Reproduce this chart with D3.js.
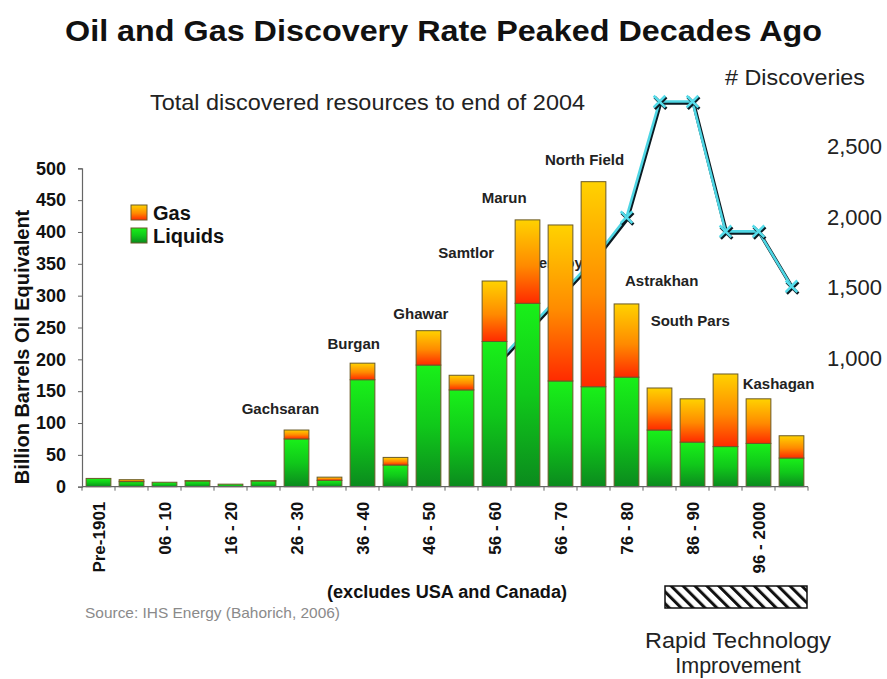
<!DOCTYPE html>
<html>
<head>
<meta charset="utf-8">
<script src="https://cdn.jsdelivr.net/npm/d3@7"></script>
<style>
  body { margin: 0; background: #ffffff; }
  svg { display: block; font-family: "Liberation Sans", Arial, Helvetica, sans-serif; }
</style>
</head>
<body>
<svg id="chart" width="887" height="679"></svg>
<script>
// Discovered resources by discovery period (billion barrels oil equivalent)
const periods = ["Pre-1901", "01 - 05", "06 - 10", "11 - 15", "16 - 20", "21 - 25", "26 - 30",
  "31 - 35", "36 - 40", "41 - 45", "46 - 50", "51 - 55", "56 - 60", "61 - 65", "66 - 70",
  "71 - 75", "76 - 80", "81 - 85", "86 - 90", "91 - 95", "96 - 2000", "2001 - 04"];
const liquids = [13, 8, 7, 9, 4, 9, 75, 10, 168, 34, 191, 152, 228, 288, 166, 157, 172, 89, 70, 63, 68, 45];
const gas = [0, 3, 0, 0.5, 0, 0.5, 14, 5, 26, 12, 54, 23, 95, 131, 245, 322, 115, 66, 68, 114, 70, 35];

// Number of discoveries per period (right-hand scale)
const discoveryPeriods = ["56 - 60", "61 - 65", "66 - 70", "71 - 75", "76 - 80", "81 - 85",
  "86 - 90", "91 - 95", "96 - 2000", "2001 - 04"];
const discoveries = [950, 1200, 1450, 1700, 2000, 2820, 2820, 1900, 1900, 1510];

const leftTicks = [0, 50, 100, 150, 200, 250, 300, 350, 400, 450, 500];
const rightTicks = [1000, 1500, 2000, 2500];

// Giant fields named on the chart
const fieldNames = ["Gachsaran", "Burgan", "Ghawar", "Samtlor", "Marun", "Urengoy",
  "North Field", "Astrakhan", "South Pars", "Kashagan"];

// ---------------------------------------------------------------- layout
const svg = d3.select("#chart");
const plot = { left: 82, right: 808, top: 168.3, bottom: 486.7 };
const font = '"Liberation Sans", Arial, Helvetica, sans-serif';

const x = d3.scaleBand().domain(periods).range([plot.left, plot.right])
  .paddingInner(0.25).paddingOuter(0.125);
const y = d3.scaleLinear().domain([0, 500]).range([plot.bottom, plot.top]);
const yRight = d3.scaleLinear().domain([1000, 2500]).range([358.3, 146.7]);

const defs = svg.append("defs");
function vGrad(id, stops) {
  const g = defs.append("linearGradient").attr("id", id)
    .attr("x1", 0).attr("y1", 0).attr("x2", 0).attr("y2", 1);
  stops.forEach(([o, c]) => g.append("stop").attr("offset", o).attr("stop-color", c));
}
vGrad("gasFill", [[0, "#ffd200"], [0.55, "#ff8a00"], [1, "#ff2a00"]]);
vGrad("liqFill", [[0, "#19f019"], [0.5, "#10c81a"], [1, "#0b8a1e"]]);

const hatch = defs.append("pattern").attr("id", "hatch")
  .attr("patternUnits", "userSpaceOnUse").attr("width", 8.4).attr("height", 8.4)
  .attr("patternTransform", "rotate(-45)");
hatch.append("rect").attr("width", 8.4).attr("height", 8.4).attr("fill", "#fff");
hatch.append("rect").attr("width", 3).attr("height", 8.4).attr("fill", "#111");

// text helper: optional fitted width
function label(g, px, py, str, size, opts = {}) {
  const t = g.append("text").attr("x", px).attr("y", py)
    .attr("font-size", size).attr("fill", opts.fill || "#111")
    .attr("font-weight", opts.bold ? "bold" : "normal")
    .attr("text-anchor", opts.anchor || "start")
    .text(str);
  if (opts.width) t.attr("textLength", opts.width).attr("lengthAdjust", "spacingAndGlyphs");
  return t;
}

// ---------------------------------------------------------------- titles
label(svg, 65, 41, "Oil and Gas Discovery Rate Peaked Decades Ago", 30, { bold: true, width: 757 });
label(svg, 150, 110, "Total discovered resources to end of 2004", 22, { fill: "#222", width: 435 });
label(svg, 725, 85, "# Discoveries", 22, { fill: "#222", width: 140 });

svg.append("text")
  .attr("transform", "translate(29, 347) rotate(-90)")
  .attr("text-anchor", "middle").attr("font-size", 20).attr("font-weight", "bold").attr("fill", "#111")
  .text("Billion Barrels Oil Equivalent");

// ---------------------------------------------------------------- left axis
const yAxis = svg.append("g").attr("transform", `translate(${plot.left},0)`)
  .call(d3.axisLeft(y).tickValues(leftTicks).tickSize(4).tickPadding(12));
yAxis.select(".domain").attr("stroke", "#666").attr("stroke-width", 1.2);
yAxis.selectAll(".tick line").attr("stroke", "#666");
yAxis.selectAll(".tick text").attr("font-family", font).attr("font-size", 18)
  .attr("font-weight", "bold").attr("fill", "#111");

// ---------------------------------------------------------------- right axis labels
const yAxisR = svg.append("g").attr("transform", "translate(827,0)")
  .call(d3.axisRight(yRight).tickValues(rightTicks).tickSize(0).tickPadding(0).tickFormat(d3.format(",")));
yAxisR.select(".domain").remove();
yAxisR.selectAll(".tick text").attr("font-family", font).attr("font-size", 22).attr("fill", "#222");

// ---------------------------------------------------------------- discoveries line (behind bars)
const linePts = discoveries.map((v, i) => [x(discoveryPeriods[i]) + x.bandwidth() / 2, yRight(v)]);
const line = d3.line();
svg.append("path").attr("d", line(linePts)).attr("transform", "translate(1,1.5)")
  .attr("fill", "none").attr("stroke", "#0b1a22").attr("stroke-width", 3.6);
svg.append("path").attr("d", line(linePts))
  .attr("fill", "none").attr("stroke", "#4fd6e4").attr("stroke-width", 2.6);

const cross = d3.symbol().type(d3.symbolX).size(90);
const markers = svg.append("g");
linePts.forEach(([px, py]) => {
  markers.append("path").attr("d", cross()).attr("transform", `translate(${px + 1},${py + 1.5})`)
    .attr("fill", "none").attr("stroke", "#0b1a22").attr("stroke-width", 3.2);
  markers.append("path").attr("d", cross()).attr("transform", `translate(${px},${py})`)
    .attr("fill", "none").attr("stroke", "#55dcea").attr("stroke-width", 2.6);
});

// field name partly hidden behind the bars
const labelPos = [[241.7, 414], [327.5, 348.5], [393.3, 319], [438.3, 258], [481.7, 203],
  [522, 268], [545, 165], [625, 286], [650.7, 326], [742.7, 389]];
const hiddenIdx = fieldNames.indexOf("Urengoy");
label(svg, labelPos[hiddenIdx][0], labelPos[hiddenIdx][1], fieldNames[hiddenIdx], 15,
  { bold: true, fill: "#222" });

// ---------------------------------------------------------------- stacked bars
const bars = svg.append("g").attr("stroke", "#6a5a28").attr("stroke-width", 1);
periods.forEach((p, i) => {
  const bx = x(p), bw = x.bandwidth();
  bars.append("rect").attr("x", bx).attr("width", bw)
    .attr("y", y(liquids[i])).attr("height", y(0) - y(liquids[i]))
    .attr("fill", "url(#liqFill)");
  if (gas[i] > 0) {
    bars.append("rect").attr("x", bx).attr("width", bw)
      .attr("y", y(liquids[i] + gas[i])).attr("height", y(liquids[i]) - y(liquids[i] + gas[i]))
      .attr("fill", "url(#gasFill)");
  }
});

// ---------------------------------------------------------------- bottom axis
const step = x.step();
const xAxis = svg.append("g").attr("transform", `translate(0,${plot.bottom})`);
xAxis.append("line").attr("x1", plot.left).attr("x2", plot.right)
  .attr("stroke", "#666").attr("stroke-width", 1.2);
const boundaries = periods.map(p => x(p) - step * x.paddingOuter()).concat([plot.right]);
xAxis.selectAll(".bt").data(boundaries).join("line")
  .attr("x1", d => d).attr("x2", d => d).attr("y1", 0).attr("y2", 4)
  .attr("stroke", "#666");
xAxis.selectAll(".xl").data(periods.filter((p, i) => i % 2 === 0)).join("text")
  .attr("transform", d => `translate(${x(d) + x.bandwidth() / 2 + 6},15) rotate(-90)`)
  .attr("text-anchor", "end").attr("font-size", 17).attr("font-weight", "bold").attr("fill", "#111")
  .text(d => d);

// ---------------------------------------------------------------- field labels
fieldNames.forEach((name, i) => {
  if (i === hiddenIdx) return;
  label(svg, labelPos[i][0], labelPos[i][1], name, 15, { bold: true, fill: "#222" });
});

// ---------------------------------------------------------------- legend
const legend = svg.append("g");
[["Gas", "url(#gasFill)", 205], ["Liquids", "url(#liqFill)", 228]].forEach(([name, fill, ly]) => {
  legend.append("rect").attr("x", 131).attr("y", ly).attr("width", 16).attr("height", 15)
    .attr("fill", fill).attr("stroke", "#6a5a28").attr("stroke-width", 1);
  label(legend, 153, ly + 15, name, 20, { bold: true });
});

// ---------------------------------------------------------------- footnotes
label(svg, 327, 598, "(excludes USA and Canada)", 17.5, { bold: true, width: 240 });
label(svg, 85, 618, "Source: IHS Energy (Bahorich, 2006)", 15, { fill: "#8a8a8a", width: 255 });

svg.append("rect").attr("x", 665).attr("y", 586).attr("width", 142).attr("height", 22)
  .attr("fill", "url(#hatch)").attr("stroke", "#111").attr("stroke-width", 1.5);

label(svg, 738, 648, "Rapid Technology", 21.5, { fill: "#222", anchor: "middle", width: 186 });
label(svg, 738, 673, "Improvement", 21.5, { fill: "#222", anchor: "middle" });
</script>
</body>
</html>
